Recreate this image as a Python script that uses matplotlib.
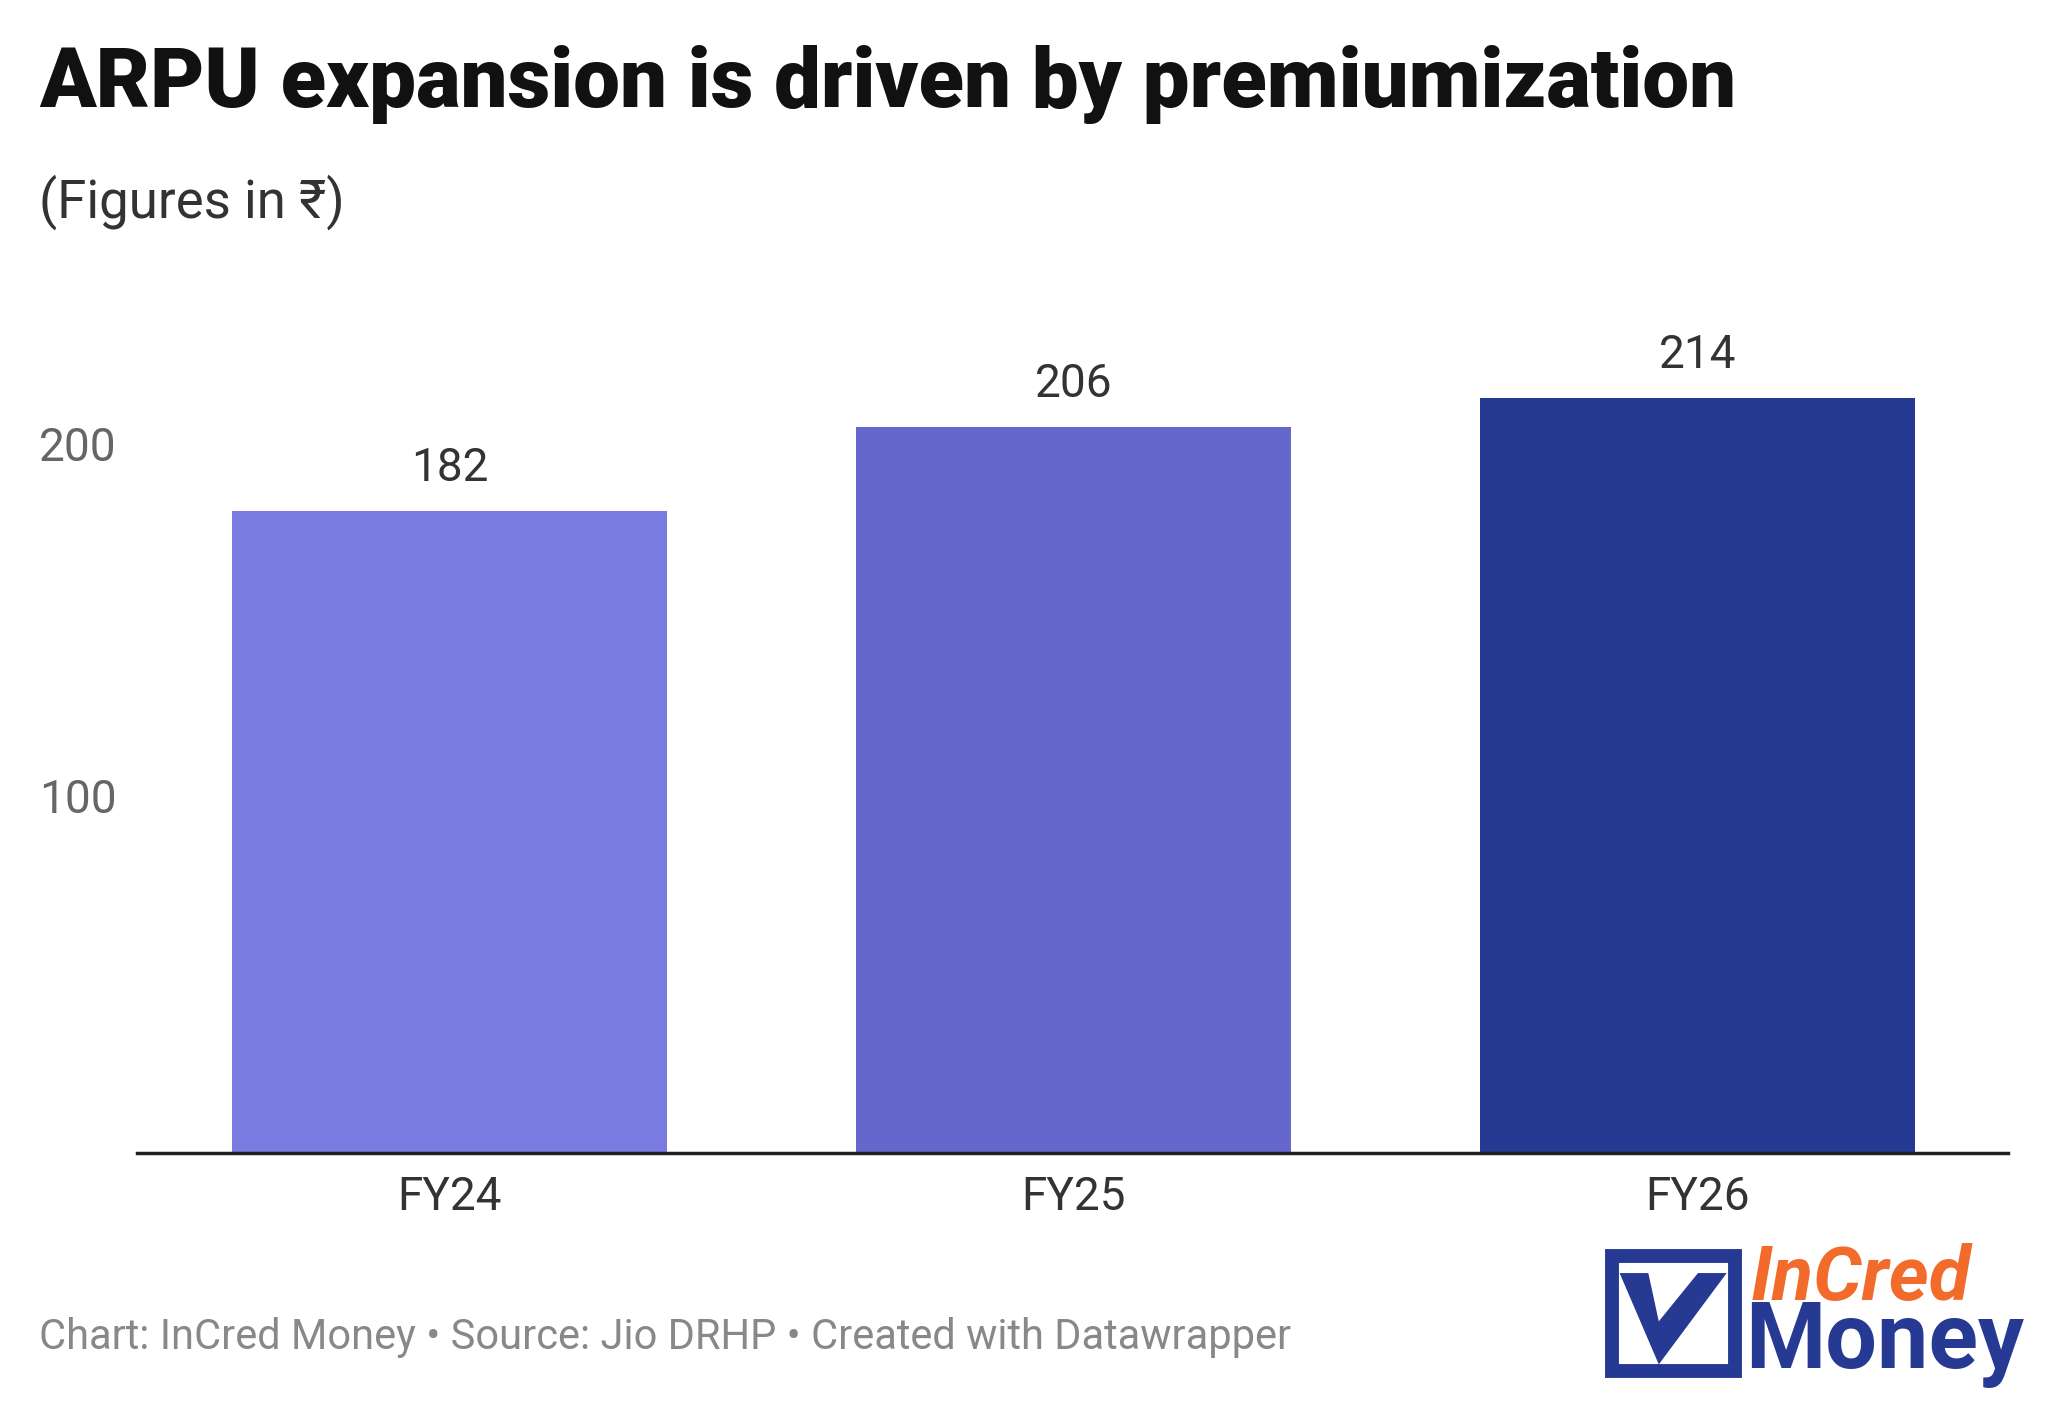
import matplotlib.pyplot as plt
from matplotlib.patches import Rectangle, Polygon

plt.rcParams['font.family'] = ['Roboto', 'DejaVu Sans']

years = ['FY24', 'FY25', 'FY26']
arpu = [182, 206, 214]
colors = ['#7a7be0', '#6567cc', '#263a94']
yticks = [100, 200]

W, H = 1568, 1073
fig = plt.figure(figsize=(20.48, 14.01), dpi=100)
ax = fig.add_axes([105/W, 1-883/H, (1537-105)/W, (883-262)/H])

x = range(len(years))
bars = ax.bar(x, arpu, width=0.697, color=colors)
for b, v in zip(bars, arpu):
    ax.text(b.get_x()+b.get_width()/2, v+6, str(v), ha='center', va='bottom',
            fontsize=33, color='#333333')
ax.set_xlim(-0.501, 2.496)
ax.set_ylim(0, 230)
ax.set_xticks(list(x))
ax.set_xticklabels(years, fontsize=33, color='#333333')
ax.tick_params(axis='x', length=0, pad=16)
ax.set_yticks([])
for s in ['top', 'right', 'left']:
    ax.spines[s].set_visible(False)
ax.spines['bottom'].set_linewidth(2.5)
ax.spines['bottom'].set_color('#222222')

for t in yticks:
    y = 1-(883-t*2.7)/H
    fig.text(30/W, y, str(t), ha='left', va='center', fontsize=33, color='#666666')

fig.text(30/W, 1-65/H, 'ARPU expansion is driven by premiumization', fontsize=60,
         fontweight='heavy', va='center', color='#111111')
fig.text(30/W, 1-155/H, '(Figures in ₹)', fontsize=38, va='center', color='#333333')
fig.text(30/W, 1-1024/H, 'Chart: InCred Money • Source: Jio DRHP • Created with Datawrapper',
         fontsize=30, va='center', color='#888888')

# logo
navy = '#263a94'
lx0, lx1, ly0, ly1 = 1234/W, 1328/W, 1-1050/H, 1-962/H
fig.patches.append(Rectangle((lx0, ly0), lx1-lx0, ly1-ly0, transform=fig.transFigure,
                             facecolor='none', edgecolor=navy, linewidth=10))
fig.patches.append(Polygon([(1240/W, 1-975/H), (1270/W, 1-1045/H), (1322/W, 1-975/H),
                            (1300/W, 1-975/H), (1270/W, 1-1012/H), (1262/W, 1-975/H)],
                           closed=True, transform=fig.transFigure, facecolor=navy))
fig.text(1340/W, 1-996/H, 'InCred', fontsize=55, fontweight='bold', style='italic',
         color='#f26b2b', va='baseline')
fig.text(1336/W, 1-1048/H, 'Money', fontsize=66, fontweight='bold', color=navy, va='baseline')

fig.savefig('out.png', dpi=100, facecolor='white')
